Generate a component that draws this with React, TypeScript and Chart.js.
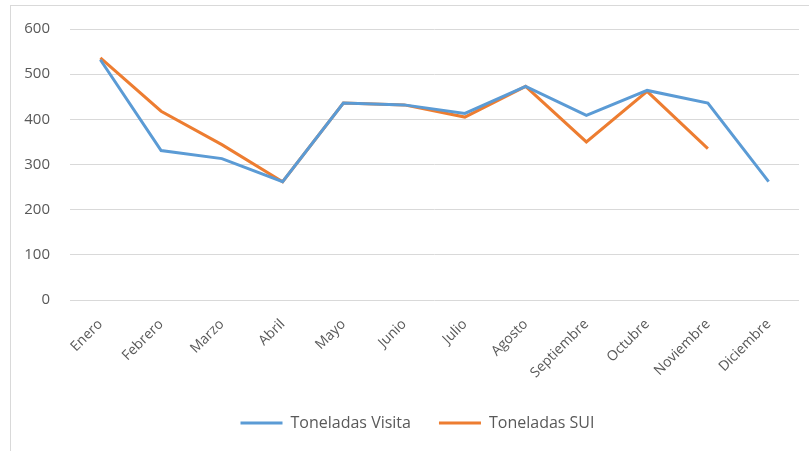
import React, { useEffect, useRef } from "react";
import { Chart, registerables } from "chart.js";

Chart.register(...registerables);

const months = ["Enero", "Febrero", "Marzo", "Abril", "Mayo", "Junio", "Julio", "Agosto", "Septiembre", "Octubre", "Noviembre", "Diciembre"];
const toneladasVisita = [532, 331, 313, 262, 436, 432, 413, 473, 409, 464, 436, 262];
const toneladasSUI = [536, 418, 344, 262, 436, 432, 405, 473, 350, 462, 335, null];
const yTicks = [0, 100, 200, 300, 400, 500, 600];

const BLUE = "#5B9BD5";
const ORANGE = "#ED7D31";
const TEXT = "#595959";
const GRID = "#D9D9D9";
const FONT = "'Open Sans', 'Liberation Sans', sans-serif";

const legendShift = {
  id: "legendShift",
  afterLayout(chart: any) {
    if (chart.legend) {
      chart.legend.left += 13;
      chart.legend.right += 13;
    }
  },
};

export default function App() {
  const ref = useRef<HTMLCanvasElement | null>(null);
  useEffect(() => {
    if (!ref.current) return;
    const chart = new Chart(ref.current, {
      type: "line",
      data: {
        labels: months,
        datasets: [
          { label: "Toneladas Visita", data: toneladasVisita, borderColor: BLUE, backgroundColor: BLUE, borderWidth: 3, pointRadius: 0, tension: 0 },
          { label: "Toneladas SUI", data: toneladasSUI, borderColor: ORANGE, backgroundColor: ORANGE, borderWidth: 3, pointRadius: 0, tension: 0, spanGaps: false },
        ],
      },
      options: {
        animation: false,
        responsive: false,
        layout: { padding: { left: 10, right: 10, top: 20, bottom: 10 } },
        plugins: {
          tooltip: { enabled: false },
          legend: {
            position: "bottom",
            labels: {
              usePointStyle: true,
              pointStyle: "line",
              pointStyleWidth: 42,
              padding: 28,
              color: TEXT,
              font: { family: FONT, size: 16 },
            },
          },
        },
        scales: {
          x: {
            offset: true,
            grid: { display: false },
            border: { display: false },
            ticks: { color: TEXT, font: { family: FONT, size: 14 }, minRotation: 45, maxRotation: 45, autoSkip: false, padding: 8 },
            afterFit: (s: any) => { s.height = 87; },
          },
          y: {
            min: 0,
            max: 600,
            afterBuildTicks: (s: any) => { s.ticks = yTicks.map((v) => ({ value: v })); },
            grid: { color: GRID, lineWidth: 1, drawTicks: false },
            border: { display: false },
            ticks: { color: TEXT, font: { family: FONT, size: 15 }, padding: 20 },
            afterFit: (s: any) => { s.width = 60; },
          },
        },
      },
      plugins: [legendShift],
    });
    return () => chart.destroy();
  }, []);
  return (
    <div style={{ position: "fixed", left: 0, top: 0, width: 809, height: 451, background: "#fff" }}>
      <div style={{ position: "absolute", left: 10, top: 5, right: 0, bottom: 0, borderLeft: `1px solid ${GRID}`, borderTop: `1px solid ${GRID}` }} />
      <canvas ref={ref} width={809} height={451} style={{ position: "absolute", left: 0, top: 0 }} />
    </div>
  );
}
